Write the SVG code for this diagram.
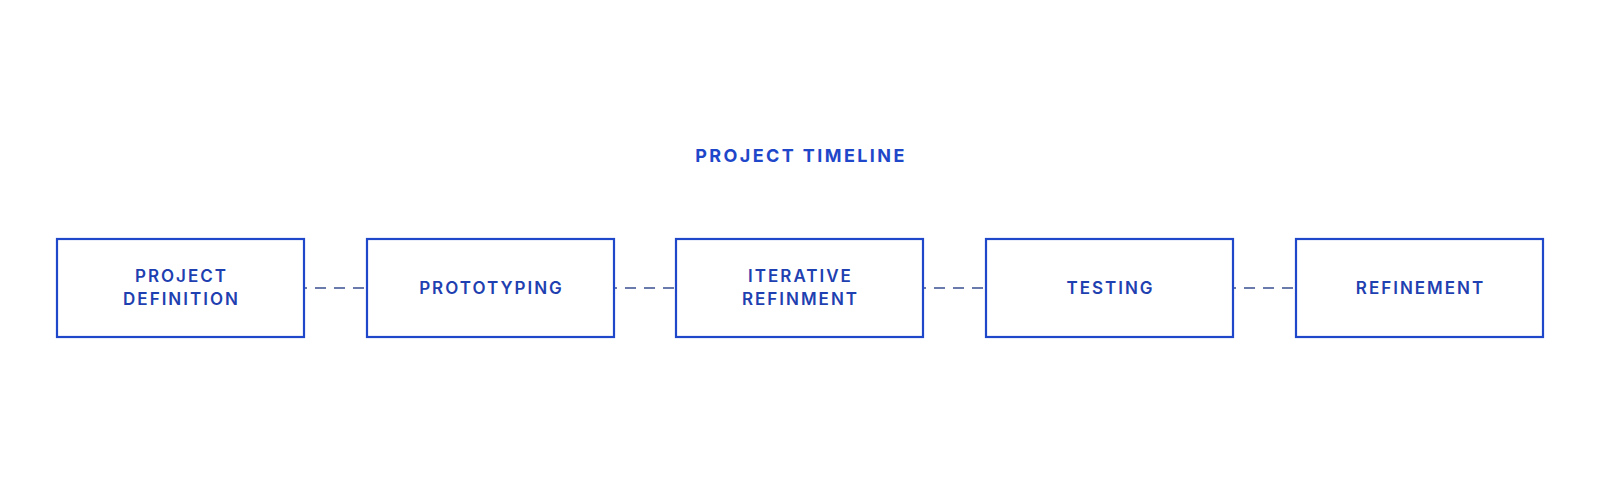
<svg xmlns="http://www.w3.org/2000/svg" width="1600" height="482" viewBox="0 0 1600 482">
<style>
.box{fill:#fff;stroke:#1f47c9;stroke-width:2.2}
.lbl{font-family:Inter,"Noto Sans",sans-serif;font-size:17px;font-weight:600;fill:#1e40b0;text-anchor:middle;letter-spacing:2px}
.title{font-family:Inter,"Noto Sans",sans-serif;font-size:18px;font-weight:700;fill:#1f47c9;text-anchor:middle;letter-spacing:2.4px}
.conn{stroke:#3a4f8f;stroke-width:1.6;stroke-dasharray:2 8 11 8 11 8 11 8 11;fill:none}
</style>
<rect width="1600" height="482" fill="#fff"/>
<text class="title" x="801" y="162">PROJECT TIMELINE</text>
<g id="connectors">
<line class="conn" x1="305" y1="288" x2="366" y2="288"/>
<line class="conn" x1="615" y1="288" x2="676" y2="288"/>
<line class="conn" x1="924" y1="288" x2="985" y2="288"/>
<line class="conn" x1="1234" y1="288" x2="1295" y2="288"/>
</g>
<g id="n1"><rect class="box" x="57" y="239" width="247" height="98"/><text class="lbl" x="181.5" y="282">PROJECT</text><text class="lbl" x="181.5" y="305">DEFINITION</text></g>
<g id="n2"><rect class="box" x="367" y="239" width="247" height="98"/><text class="lbl" x="491.5" y="294">PROTOTYPING</text></g>
<g id="n3"><rect class="box" x="676" y="239" width="247" height="98"/><text class="lbl" x="800.5" y="282">ITERATIVE</text><text class="lbl" x="800.5" y="305">REFINMENT</text></g>
<g id="n4"><rect class="box" x="986" y="239" width="247" height="98"/><text class="lbl" x="1110.5" y="294">TESTING</text></g>
<g id="n5"><rect class="box" x="1296" y="239" width="247" height="98"/><text class="lbl" x="1420.5" y="294">REFINEMENT</text></g>
</svg>
